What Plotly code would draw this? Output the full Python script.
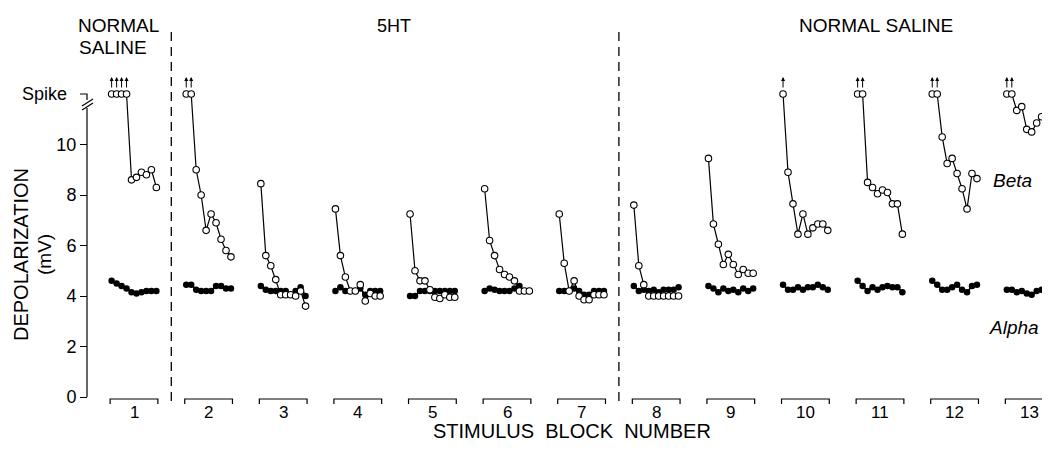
import plotly.graph_objects as go

# ---------------- data ----------------
BLOCKS = list(range(1, 14))
BLOCK_LABELS = [str(b) for b in BLOCKS]
SPIKE = 12.0          # value at which "Spike" responses are plotted
S = SPIKE
Y_TICKS = [0, 2, 4, 6, 8, 10]
Y_TICK_LABELS = ["0", "2", "4", "6", "8", "10"]
SPIKE_LABEL = "Spike"
CONDITION_BOUNDARIES = [1.5, 7.5]   # between blocks 1|2 and 7|8

beta_b1 = [S, S, S, S, 8.6, 8.7, 8.9, 8.8, 9.0, 8.3]
beta_b2 = [S, S, 9.0, 8.0, 6.6, 7.25, 6.9, 6.25, 5.8, 5.55]
beta_b3 = [8.45, 5.6, 5.2, 4.65, 4.05, 4.05, 4.05, 4.0, 4.2, 3.6]
beta_b4 = [7.45, 5.6, 4.75, 4.2, 4.2, 4.45, 3.8, 4.1, 4.0, 4.0]
beta_b5 = [7.25, 5.0, 4.6, 4.6, 4.25, 3.95, 3.9, 4.05, 3.95, 3.95]
beta_b6 = [8.25, 6.2, 5.6, 5.05, 4.85, 4.75, 4.6, 4.2, 4.2, 4.2]
beta_b7 = [7.25, 5.3, 4.2, 4.6, 4.0, 3.85, 3.85, 4.05, 4.05, 4.05]
beta_b8 = [7.6, 5.2, 4.45, 4.0, 4.0, 4.0, 4.0, 4.0, 4.0, 4.0]
beta_b9 = [9.45, 6.85, 6.05, 5.25, 5.65, 5.25, 4.85, 5.05, 4.9, 4.9]
beta_b10 = [S, 8.9, 7.65, 6.45, 7.25, 6.45, 6.7, 6.85, 6.85, 6.6]
beta_b11 = [S, S, 8.5, 8.3, 8.05, 8.2, 8.1, 7.65, 7.65, 6.45]
beta_b12 = [S, S, 10.3, 9.25, 9.45, 8.85, 8.25, 7.45, 8.85, 8.65]
beta_b13 = [S, S, 11.35, 11.5, 10.6, 10.5, 10.85, 11.1, 11.2, 10.6]

alpha_b1 = [4.6, 4.5, 4.4, 4.3, 4.15, 4.1, 4.15, 4.2, 4.2, 4.2]
alpha_b2 = [4.45, 4.45, 4.25, 4.2, 4.2, 4.2, 4.4, 4.4, 4.3, 4.3]
alpha_b3 = [4.4, 4.25, 4.2, 4.2, 4.2, 4.2, 4.05, 4.2, 4.35, 4.0]
alpha_b4 = [4.2, 4.35, 4.2, 4.2, 4.2, 4.3, 4.05, 4.2, 4.2, 4.2]
alpha_b5 = [4.0, 4.0, 4.2, 4.2, 4.2, 4.2, 4.2, 4.2, 4.2, 4.2]
alpha_b6 = [4.2, 4.3, 4.25, 4.2, 4.2, 4.2, 4.3, 4.4, 4.2, 4.2]
alpha_b7 = [4.2, 4.2, 4.2, 4.3, 4.2, 4.05, 4.05, 4.2, 4.2, 4.2]
alpha_b8 = [4.4, 4.2, 4.25, 4.2, 4.25, 4.15, 4.25, 4.25, 4.25, 4.35]
alpha_b9 = [4.4, 4.3, 4.15, 4.3, 4.2, 4.25, 4.15, 4.3, 4.2, 4.3]
alpha_b10 = [4.45, 4.25, 4.25, 4.35, 4.25, 4.35, 4.35, 4.45, 4.35, 4.25]
alpha_b11 = [4.6, 4.4, 4.2, 4.35, 4.25, 4.35, 4.4, 4.35, 4.35, 4.15]
alpha_b12 = [4.6, 4.45, 4.25, 4.25, 4.35, 4.45, 4.25, 4.15, 4.4, 4.45]
alpha_b13 = [4.25, 4.25, 4.15, 4.2, 4.1, 4.05, 4.2, 4.25, 4.25, 4.25]

beta_blocks = [beta_b1, beta_b2, beta_b3, beta_b4, beta_b5, beta_b6, beta_b7,
               beta_b8, beta_b9, beta_b10, beta_b11, beta_b12, beta_b13]
alpha_blocks = [alpha_b1, alpha_b2, alpha_b3, alpha_b4, alpha_b5, alpha_b6, alpha_b7,
                alpha_b8, alpha_b9, alpha_b10, alpha_b11, alpha_b12, alpha_b13]

# ---------------- layout geometry ----------------
PAGE_W, PAGE_H = 1050, 459
OFF = 8                       # default page body margin
W, H = PAGE_W - OFF, PAGE_H - 2 * OFF - 6
PX_PER_BLOCK = 74.6
PX_PER_MV = 25.25
BLOCK1_PX = 134.0
ZERO_PY = 397.0
AXIS_PX = 87.0

X0 = 1 - (BLOCK1_PX - OFF) / PX_PER_BLOCK
X1 = X0 + W / PX_PER_BLOCK


def X(px):
    return X0 + (px - OFF) / PX_PER_BLOCK


def Y(py):
    return (ZERO_PY - py) / PX_PER_MV


Y0, Y1 = Y(OFF + H), Y(OFF)

STEP = 0.0666  # spacing of successive stimuli within a block (block units)
FONT = "Liberation Sans"


def block_xy(blocks):
    xs, ys = [], []
    for b, vals in zip(BLOCKS, blocks):
        n = len(vals)
        for i, v in enumerate(vals):
            xs.append(b + (i - (n - 1) / 2) * STEP)
            ys.append(v)
        xs.append(None)
        ys.append(None)
    return xs, ys


ax_, ay_ = block_xy(alpha_blocks)
bx_, by_ = block_xy(beta_blocks)

fig = go.Figure()
fig.add_trace(go.Scatter(
    x=ax_, y=ay_, mode="lines+markers", name="Alpha",
    line=dict(color="black", width=1.6),
    marker=dict(symbol="circle", size=6.5, color="black"),
    connectgaps=False, cliponaxis=False, showlegend=False))
fig.add_trace(go.Scatter(
    x=bx_, y=by_, mode="lines+markers", name="Beta",
    line=dict(color="black", width=1.2),
    marker=dict(symbol="circle", size=6.5, color="white",
                line=dict(color="black", width=1.1)),
    connectgaps=False, cliponaxis=False, showlegend=False))

shapes = []
annotations = []

# spike arrows
for x, y in zip(bx_, by_):
    if y is not None and y == SPIKE:
        annotations.append(dict(
            x=x, y=Y(77), xref="x", yref="y", text="", showarrow=True,
            ax=0, ay=12, arrowhead=2, arrowsize=0.8, arrowwidth=1.0,
            arrowcolor="black", standoff=0, startstandoff=0))

# condition boundaries (dashed)
for xb in CONDITION_BOUNDARIES:
    shapes.append(dict(type="line", xref="x", yref="y", x0=xb, x1=xb,
                       y0=Y(32), y1=Y(405),
                       line=dict(color="black", width=1.3, dash="9px,6px")))

# block brackets and labels
HALF = 0.32
for b, lab in zip(BLOCKS, BLOCK_LABELS):
    shapes.append(dict(
        type="path", xref="x", yref="y",
        path=f"M {b-HALF},{Y(404)} L {b-HALF},{Y(399)} L {b+HALF},{Y(399)} L {b+HALF},{Y(404)}",
        line=dict(color="black", width=1.2)))
    annotations.append(dict(x=b, y=Y(412), xref="x", yref="y", text=lab,
                            showarrow=False, font=dict(family=FONT, size=17, color="black")))

# y axis line with break
ax_x = X(AXIS_PX)
shapes.append(dict(type="line", xref="x", yref="y", x0=ax_x, x1=ax_x,
                   y0=0, y1=Y(108), line=dict(color="black", width=1.2)))
shapes.append(dict(type="path", xref="x", yref="y",
                   path=f"M {X(80)},{SPIKE} L {ax_x},{SPIKE} L {ax_x},{Y(100)}",
                   line=dict(color="black", width=1.2)))
for dy in (0, -4):
    shapes.append(dict(type="line", xref="x", yref="y",
                       x0=X(82), y0=Y(110 + dy), x1=X(93), y1=Y(103 + dy),
                       line=dict(color="black", width=1.2)))

txt = dict(family=FONT, color="black")
annotations += [
    dict(x=X(20), y=SPIKE, text=SPIKE_LABEL, xanchor="left", font=dict(size=18, **txt)),
    dict(x=X(76), y=Y(25.5), text="NORMAL", xanchor="left", font=dict(size=19, **txt)),
    dict(x=X(77), y=Y(47), text="SALINE", xanchor="left", font=dict(size=19, **txt)),
    dict(x=X(394), y=Y(25.5), text="5HT", font=dict(size=18, **txt)),
    dict(x=X(876), y=Y(25.5), text="NORMAL\u00a0SALINE", font=dict(size=19, **txt)),
    dict(x=X(1012), y=Y(180), text="<i>Beta</i>", font=dict(size=19, **txt)),
    dict(x=X(1014), y=Y(327), text="<i>Alpha</i>", font=dict(size=19, **txt)),
    dict(x=X(572), y=Y(431),
         text="STIMULUS\u00a0\u00a0BLOCK\u00a0\u00a0NUMBER", font=dict(size=20, **txt)),
    dict(x=X(21), y=Y(255), text="DEPOLARIZATION", textangle=-90, font=dict(size=20, **txt)),
    dict(x=X(44), y=Y(255), text="(mV)", textangle=-90, font=dict(size=19, **txt)),
]
for a in annotations:
    a.setdefault("xref", "x")
    a.setdefault("yref", "y")
    a.setdefault("showarrow", False)

fig.update_layout(
    width=W, height=H,
    margin=dict(l=0, r=0, t=0, b=0, pad=0),
    paper_bgcolor="white", plot_bgcolor="white",
    xaxis=dict(range=[X0, X1], visible=False, fixedrange=True),
    yaxis=dict(range=[Y0, Y1], anchor="free", position=(AXIS_PX - OFF) / W, side="left",
               tickvals=Y_TICKS, ticktext=Y_TICK_LABELS, ticks="outside",
               ticklen=7, tickwidth=1.2, tickcolor="black",
               tickfont=dict(family=FONT, size=18, color="black"),
               showline=False, showgrid=False, zeroline=False, automargin=False),
    shapes=shapes, annotations=annotations, showlegend=False,
)

fig.write_html("out.html")
